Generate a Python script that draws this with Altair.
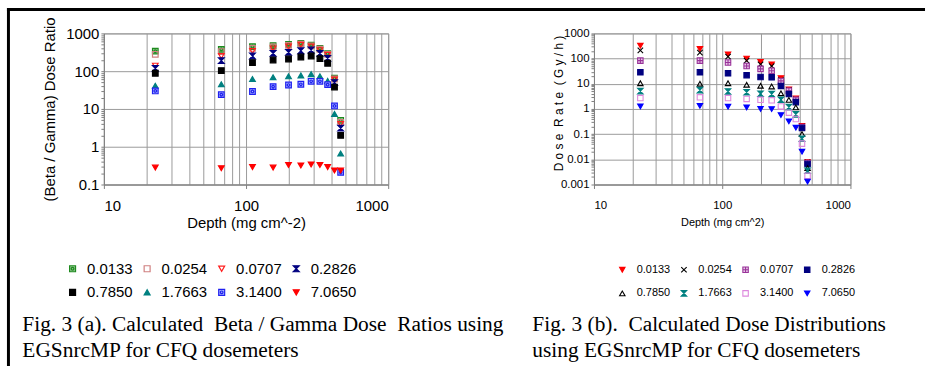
import altair as alt
import pandas as pd

# Depth of each calculation point (mg cm^-2)
depths = [23, 67, 111, 155, 199, 243, 287, 331, 375, 419, 463]

# Series labels (shared by both panels)
series_labels = ["0.0133", "0.0254", "0.0707", "0.2826", "0.7850", "1.7663", "3.1400", "7.0650"]

# Fig. 3(a): beta / gamma dose ratio
ratio_0133 = [340, 378, 446, 474, 512, 545, 490, 400, 290, 65, 5.0]
ratio_0254 = [280, 330, 400, 440, 480, 520, 470, 380, 280, 62, 4.4]
ratio_0707 = [140, 250, 342, 400, 450, 500, 450, 360, 270, 60, 4.0]
ratio_2826 = [118, 190, 252, 296, 316, 348, 363, 296, 219, 50, 3.1]
ratio_7850 = [88, 104, 169, 198, 210, 237, 252, 215, 162, 38, 2.0]
ratio_17663 = [41, 45, 62, 69, 73, 77, 83, 73, 55, 7.4, 0.66]
ratio_31400 = [30, 24, 29, 39, 43, 45, 54, 54, 44, 12, 0.21]
ratio_70650 = [0.28, 0.27, 0.29, 0.28, 0.33, 0.32, 0.34, 0.33, 0.29, 0.235, 0.235]

# Fig. 3(b): dose rate (Gy/h)
rate_0133 = [325, 240, 148, 100, 73, 59, 16.6, 6.0, 2.6, 0.21, 0.0078]
rate_0254 = [213, 172, 120, 83, 59, 50, 14, 5.6, 2.4, 0.2, 0.0075]
rate_0707 = [83, 83, 70, 51, 39, 33, 13, 5.3, 2.3, 0.19, 0.0072]
rate_2826 = [28.6, 28.6, 26, 22, 18.6, 18, 8.2, 3.9, 1.87, 0.175, 0.0065]
rate_7850 = [10.5, 10, 10.5, 9.1, 8.3, 7.8, 4.2, 2.3, 1.15, 0.1, 0.0045]
rate_17663 = [5.1, 5.6, 4.9, 4.6, 4.0, 3.9, 2.3, 1.18, 0.61, 0.066, 0.0035]
rate_31400 = [2.7, 2.9, 2.7, 2.5, 2.3, 2.2, 1.26, 0.71, 0.4, 0.042, 0.0022]
rate_70650 = [1.26, 1.33, 1.23, 1.15, 1.0, 0.99, 0.57, 0.32, 0.18, 0.02, 0.0013]

ratio_series = [ratio_0133, ratio_0254, ratio_0707, ratio_2826,
                ratio_7850, ratio_17663, ratio_31400, ratio_70650]
rate_series = [rate_0133, rate_0254, rate_0707, rate_2826,
               rate_7850, rate_17663, rate_31400, rate_70650]

caption_a = "Fig. 3 (a). Calculated\u00a0 Beta / Gamma Dose\u00a0 Ratios using\nEGSnrcMP for CFQ dosemeters"
caption_b = "Fig. 3 (b).\u00a0 Calculated Dose Distributions\nusing EGSnrcMP for CFQ dosemeters"


def long_table(columns, value_name):
    rows = []
    for label, values in zip(series_labels, columns):
        for d, v in zip(depths, values):
            rows.append({"series": label, "depth": d, value_name: v})
    return pd.DataFrame(rows)


def log_ticks(lo, hi):
    vals = [m * 10.0 ** e for e in range(lo, hi) for m in range(1, 10)]
    vals.append(10.0 ** hi)
    return vals


DECADE = "abs(log(datum.value)/LN10 - round(log(datum.value)/LN10)) < 1e-6"
GRID = "#9a9a9a"
AXIS_GREY = "#808080"

# custom symbol paths
HOURGLASS = "M-1,-1L1,-1L-1,1L1,1Z"
CROSS = "M-1,-1L1,1M-1,1L1,-1"
BOXPLUS = "M-1,-1H1V1H-1Z M0,-1V1 M-1,0H1"
BOXRING = "M-1,-1H1V1H-1Z M0.45,0A0.45,0.45,0,1,1,-0.45,0A0.45,0.45,0,1,1,0.45,0Z"


def make_axis_x(title, font, size, title_size, title_y, label_pad):
    return alt.Axis(
        values=log_ticks(1, 3), format="~g",
        labelExpr=f"({DECADE}) ? datum.label : ''",
        labelOverlap=False, labelFont=font, labelFontSize=size, labelColor="black",
        labelPadding=label_pad,
        grid=True, gridColor=GRID, gridWidth=1,
        domainColor=AXIS_GREY, tickColor=AXIS_GREY, tickSize=4,
        tickOpacity={"condition": {"test": DECADE, "value": 1}, "value": 0},
        title=title, titleFont=font, titleFontSize=title_size, titleFontWeight="normal",
        titleColor="black", titleY=title_y, titleBaseline="middle",
    )


def make_axis_y(title, lo, hi, font, size, title_size, title_x, title_y):
    return alt.Axis(
        values=log_ticks(lo, hi), format="~g",
        labelExpr=f"({DECADE}) ? datum.label : ''",
        labelOverlap=False, labelFont=font, labelFontSize=size, labelColor="black",
        labelPadding=2,
        grid=True, gridColor=GRID, gridWidth=1,
        gridOpacity={"condition": {"test": DECADE, "value": 1}, "value": 0},
        domainColor=AXIS_GREY, tickColor=AXIS_GREY, tickSize=3,
        title=title, titleFont=font, titleFontSize=title_size, titleFontWeight="normal",
        titleColor="black", titleX=title_x, titleY=title_y, titleBaseline="middle",
        titleAngle=-90,
    )


def series_enc(shapes, fills, strokes, legend):
    return dict(
        shape=alt.Shape("series:N", scale=alt.Scale(domain=series_labels, range=shapes), legend=legend),
        fill=alt.Fill("series:N", scale=alt.Scale(domain=series_labels, range=fills), legend=legend),
        stroke=alt.Stroke("series:N", scale=alt.Scale(domain=series_labels, range=strokes), legend=legend),
    )


def caption_layer(text, x, y):
    return alt.Chart(pd.DataFrame({"caption": [text]})).mark_text(
        font="Liberation Serif", fontSize=21.5, align="left", baseline="alphabetic",
        lineBreak="\n", lineHeight=26.5, color="black",
    ).encode(text="caption:N", x=alt.value(x), y=alt.value(y))


one_row = pd.DataFrame({"k": [0]})
SANS = "Liberation Sans"

# ---------- panel (a) ----------
legend_a = alt.Legend(
    orient="none", legendX=-39, legendY=229, columns=4, direction="horizontal",
    title=None, padding=0,
    labelFont=SANS, labelFontSize=15, labelColor="black", labelOffset=7,
    symbolSize=36, symbolStrokeWidth=1.2, columnPadding=7, rowPadding=8,
)
shapes_a = [BOXRING, "square", "triangle-down", HOURGLASS, "square", "triangle-up", BOXRING, "triangle-down"]
fills_a = ["#8cc48c", "transparent", "transparent", "#000080", "#000000", "#008080", "#a6b4ff", "#ff0000"]
strokes_a = ["#1f8a1f", "#d08080", "#ff2020", "#000080", "#000000", "#008080", "#2020f0", "#ff0000"]

points_a = alt.Chart(long_table(ratio_series, "ratio")).mark_point(
    size=32, strokeWidth=1.2, opacity=1, fillOpacity=1,
).encode(
    x=alt.X("depth:Q", scale=alt.Scale(type="log", domain=[10, 1000], nice=False),
            axis=make_axis_x("Depth (mg cm^-2)", SANS, 15, 15, 38, 10)),
    y=alt.Y("ratio:Q", scale=alt.Scale(type="log", domain=[0.1, 1000], nice=False),
            axis=make_axis_y("(Beta / Gamma) Dose Ratio", -1, 3, SANS, 15, 15, -55, 76)),
    **series_enc(shapes_a, fills_a, strokes_a, legend_a),
)

frame_top = alt.Chart(one_row).mark_rule(color="black", strokeWidth=3).encode(
    x=alt.value(-97.5), x2=alt.value(826), y=alt.value(-24))
frame_left = alt.Chart(one_row).mark_rule(color="black", strokeWidth=3).encode(
    x=alt.value(-96), y=alt.value(-25.5), y2=alt.value(336))

panel_a = alt.layer(
    points_a, frame_top, frame_left, caption_layer(caption_a, -82, 299)
).properties(width=286, height=152)

# ---------- panel (b) ----------
legend_b = alt.Legend(
    orient="none", legendX=23, legendY=232, columns=4, direction="horizontal",
    title=None, padding=0,
    labelFont=SANS, labelFontSize=11, labelColor="black", labelOffset=9,
    symbolSize=30, symbolStrokeWidth=1.1, columnPadding=8, rowPadding=12,
)
shapes_b = ["triangle-down", CROSS, BOXPLUS, "square", "triangle-up", HOURGLASS, "square", "triangle-down"]
fills_b = ["#ff0000", "transparent", "#e8c8e8", "#000080", "transparent", "#008080", "transparent", "#0000ff"]
strokes_b = ["#ff0000", "#000000", "#993399", "#000080", "#000000", "#008080", "#dd88dd", "#0000ff"]

points_b = alt.Chart(long_table(rate_series, "rate")).mark_point(
    size=30, strokeWidth=1.1, opacity=1, fillOpacity=1,
).encode(
    x=alt.X("depth:Q", scale=alt.Scale(type="log", domain=[10, 1000], nice=False),
            axis=make_axis_x("Depth (mg cm^2)", SANS, 11.5, 11, 38, 11)),
    y=alt.Y("rate:Q", scale=alt.Scale(type="log", domain=[0.001, 1000], nice=False),
            axis=make_axis_y("D o s e\u00a0\u00a0R a t e\u00a0\u00a0( G y / h )", -3, 3, SANS, 11.5, 12, -36, 70)),
    **series_enc(shapes_b, fills_b, strokes_b, legend_b),
)

panel_b = alt.layer(points_b, caption_layer(caption_b, -62, 299)).properties(width=258, height=152)

chart = alt.hconcat(panel_a, panel_b, spacing=207, bounds="flush").resolve_scale(
    x="independent", y="independent", shape="independent", fill="independent", stroke="independent",
).resolve_legend(
    shape="independent", fill="independent", stroke="independent",
).configure_view(
    stroke=GRID,
).properties(
    padding={"left": 4.5, "top": 4.5, "right": 0, "bottom": 0},
    background="white",
)

chart.save("out.html", embed_options={"renderer": "svg", "actions": False})
